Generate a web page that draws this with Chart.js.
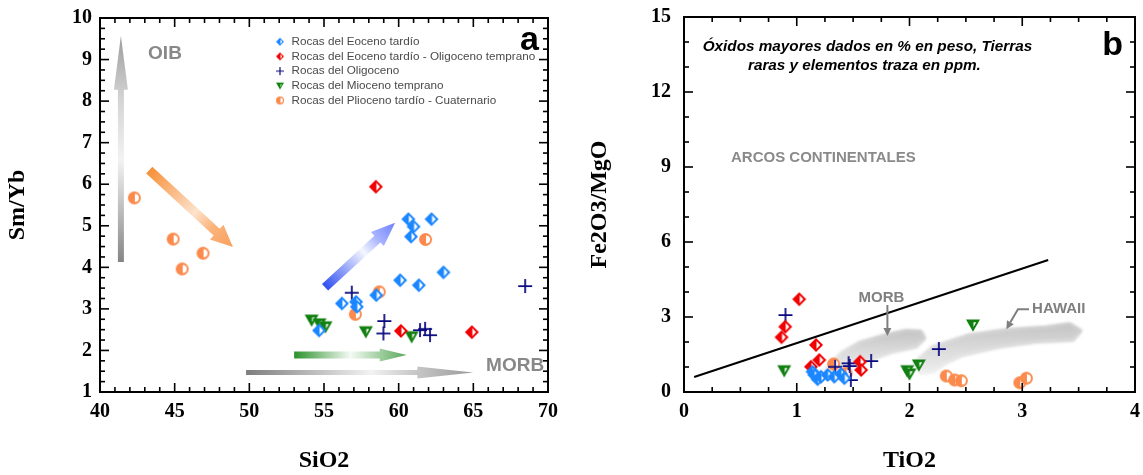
<!DOCTYPE html>
<html>
<head>
<meta charset="utf-8">
<script src="https://cdn.jsdelivr.net/npm/chart.js@4.4.0/dist/chart.umd.min.js"></script>
<style>
  html, body { margin: 0; padding: 0; background: #fff; }
  #wrap { position: relative; width: 1143px; height: 475px; overflow: hidden; }
  canvas { position: absolute; top: 0; }
</style>
</head>
<body>
<div id="wrap">
  <canvas id="chartA" width="572" height="475" style="left:0;width:572px;height:475px"></canvas>
  <canvas id="chartB" width="571" height="475" style="left:572px;width:571px;height:475px"></canvas>
</div>
<script>
// ---- data: panel a (SiO2 vs Sm/Yb) ----
const seriesNames = [
  'Rocas del Eoceno tardío',
  'Rocas del Eoceno tardío - Oligoceno temprano',
  'Rocas del Oligoceno',
  'Rocas del Mioceno temprano',
  'Rocas del Plioceno tardío - Cuaternario'
];
const eocenoA = [[60.65,5.16],[62.2,5.16],[61.0,4.98],[60.83,4.74],[63.0,3.88],[60.1,3.69],[61.35,3.57],[56.2,3.13],[57.15,3.17],[57.2,3.05],[58.5,3.33],[54.67,2.48]];
const eoOligoA = [[58.47,5.94],[60.15,2.47],[64.9,2.44]];
const oligoA = [[56.86,3.39],[59.04,2.71],[58.98,2.41],[61.43,2.49],[61.77,2.52],[62.1,2.37],[68.47,3.55]];
const miocenoA = [[54.17,2.73],[54.7,2.64],[55.1,2.57],[57.8,2.45],[60.87,2.33]];
const pliocenoA = [[42.3,5.67],[44.9,4.68],[45.5,3.96],[46.9,4.34],[61.8,4.67],[58.7,3.41],[57.1,2.87]];
const xTicksA = [40, 45, 50, 55, 60, 65, 70];
const yTicksA = [1, 2, 3, 4, 5, 6, 7, 8, 9, 10];

// ---- data: panel b (TiO2 vs Fe2O3/MgO) ----
const eocenoB = [[1.14,0.81],[1.156,0.68],[1.185,0.51],[1.215,0.61],[1.274,0.68],[1.333,0.61],[1.393,0.72],[1.422,0.55]];
const eoOligoB = [[1.022,3.71],[0.898,2.61],[0.865,2.19],[1.171,1.88],[1.2,1.28],[1.126,1.01],[1.562,1.21],[1.571,0.88]];
const oligoB = [[0.9,3.08],[1.34,1.01],[1.46,1.15],[1.47,1.04],[1.48,0.48],[1.66,1.24],[2.26,1.72]];
const miocenoB = [[0.889,0.85],[1.98,0.85],[2.0,0.72],[2.083,1.08],[2.563,2.68]];
const pliocenoB = [[1.327,1.12],[1.437,0.75],[2.326,0.64],[2.4,0.48],[2.46,0.45],[2.978,0.37],[3.037,0.55]];
const arcLine = [[0.09,0.6],[3.23,5.28]];
const morbField = [[1.24,0.85],[1.40,1.57],[1.556,1.97],[1.793,2.28],[1.97,2.45],[2.10,2.42],[2.133,2.15],[2.06,1.81],[1.85,1.61],[1.64,1.28],[1.49,1.02],[1.37,0.78]];
const hawaiiField = [[2.04,1.15],[2.207,1.8],[2.533,2.28],[2.86,2.48],[3.215,2.59],[3.42,2.72],[3.52,2.45],[3.45,2.08],[3.126,2.01],[2.8,1.81],[2.474,1.48],[2.32,1.15],[2.215,0.83],[2.10,0.74]];
const xTicksB = [0, 1, 2, 3, 4];
const yTicksB = [0, 3, 6, 9, 12, 15];

const colors = { eoceno: '#1a86ff', eoOligo: '#f00000', oligo: '#0a0a80', mioceno: '#118011', plioceno: '#fb8a4c' };

// marker images
function makeMarker(kind, color, s) {
  const c = document.createElement('canvas');
  c.width = c.height = s + 4;
  const g = c.getContext('2d');
  const m = c.width / 2, r = s / 2;
  g.fillStyle = color; g.strokeStyle = color;
  if (kind === 'diamond') {
    g.beginPath(); g.moveTo(m, m - r); g.lineTo(m + r, m); g.lineTo(m, m + r); g.lineTo(m - r, m); g.closePath(); g.fill();
    const k = r * 0.42;
    g.fillStyle = '#fff';
    g.beginPath(); g.moveTo(m + 0.5, m - r + k); g.lineTo(m + r - k, m); g.lineTo(m + 0.5, m + r - k); g.closePath(); g.fill();
  } else if (kind === 'circle') {
    g.beginPath(); g.arc(m, m, r, 0, Math.PI * 2); g.fill();
    g.fillStyle = '#fff';
    g.beginPath(); g.moveTo(m + 0.5, m - r * 0.62); g.arc(m + 0.5, m, r * 0.62, -Math.PI / 2, Math.PI / 2); g.closePath(); g.fill();
  } else if (kind === 'triangle') {
    g.beginPath(); g.moveTo(m - r, m - r * 0.8); g.lineTo(m + r, m - r * 0.8); g.lineTo(m, m + r * 0.95); g.closePath(); g.fill();
    g.fillStyle = '#fff';
    g.beginPath(); g.moveTo(m + 0.5, m - r * 0.8 + r * 0.4); g.lineTo(m + r * 0.45, m - r * 0.8 + r * 0.4); g.lineTo(m + 0.5, m + r * 0.3); g.closePath(); g.fill();
  } else {
    g.lineWidth = Math.max(1.2, s / 8);
    g.beginPath(); g.moveTo(m - r, m); g.lineTo(m + r, m); g.moveTo(m, m - r); g.lineTo(m, m + r); g.stroke();
  }
  return c;
}
const markerDefs = [['diamond', colors.eoceno], ['diamond', colors.eoOligo], ['cross', colors.oligo], ['triangle', colors.mioceno], ['circle', colors.plioceno]];
const bigMarkers = markerDefs.map(([k, c]) => makeMarker(k, c, k === 'circle' ? 13 : 14));
const smallMarkers = markerDefs.map(([k, c]) => makeMarker(k, c, 8));

function toPoints(arr) { return arr.map(p => ({ x: p[0], y: p[1] })); }
function scatterSets(lists) {
  return lists.map((arr, i) => ({
    label: seriesNames[i],
    data: toPoints(arr),
    pointStyle: bigMarkers[i],
    pointRadius: 6,
    pointHoverRadius: 6
  }));
}

// helpers
function P(chart, v) { return [chart.scales.x.getPixelForValue(v[0]), chart.scales.y.getPixelForValue(v[1])]; }

function drawArrow(ctx, a, b, shaft, headLen, headW, stops) {
  const dx = b[0] - a[0], dy = b[1] - a[1], len = Math.hypot(dx, dy);
  const ux = dx / len, uy = dy / len, nx = -uy, ny = ux;
  const bx = b[0] - ux * headLen, by = b[1] - uy * headLen;
  const g = ctx.createLinearGradient(a[0], a[1], b[0], b[1]);
  stops.forEach(s => g.addColorStop(s[0], s[1]));
  ctx.beginPath();
  ctx.moveTo(a[0] + nx * shaft / 2, a[1] + ny * shaft / 2);
  ctx.lineTo(bx + nx * shaft / 2, by + ny * shaft / 2);
  ctx.lineTo(bx + nx * headW / 2, by + ny * headW / 2);
  ctx.lineTo(b[0], b[1]);
  ctx.lineTo(bx - nx * headW / 2, by - ny * headW / 2);
  ctx.lineTo(bx - nx * shaft / 2, by - ny * shaft / 2);
  ctx.lineTo(a[0] - nx * shaft / 2, a[1] - ny * shaft / 2);
  ctx.closePath();
  ctx.fillStyle = g;
  ctx.fill();
}

function drawFrame(chart, xStep, xMajor, yStep, yMajor) {
  const { ctx, chartArea: a, scales: { x, y } } = chart;
  ctx.save();
  ctx.setTransform(1, 0, 0, 1, 0, 0);
  ctx.filter = 'none';
  ctx.globalAlpha = 1;
  ctx.globalCompositeOperation = 'source-over';
  ctx.fillStyle = '#000';
  // tick marks as thin filled rectangles, pointing inward on all four sides
  const nx = Math.round((x.max - x.min) / xStep);
  for (let i = 0; i <= nx; i++) {
    const v = x.min + i * xStep;
    const p = x.getPixelForValue(v);
    const L = Math.abs(v / xMajor - Math.round(v / xMajor)) < 1e-6 ? 9 : 5;
    ctx.fillRect(p - 0.8, a.bottom - L, 1.6, L);
    ctx.fillRect(p - 0.8, a.top, 1.6, L);
  }
  const ny = Math.round((y.max - y.min) / yStep);
  for (let i = 0; i <= ny; i++) {
    const v = y.min + i * yStep;
    const p = y.getPixelForValue(v);
    const L = Math.abs(v / yMajor - Math.round(v / yMajor)) < 1e-6 ? 9 : 5;
    ctx.fillRect(a.left, p - 0.8, L, 1.6);
    ctx.fillRect(a.right - L, p - 0.8, L, 1.6);
  }
  // frame
  ctx.fillRect(a.left - 1, a.top - 1, a.right - a.left + 2, 2);
  ctx.fillRect(a.left - 1, a.bottom - 1, a.right - a.left + 2, 2);
  ctx.fillRect(a.left - 1, a.top - 1, 2, a.bottom - a.top + 2);
  ctx.fillRect(a.right - 1, a.top - 1, 2, a.bottom - a.top + 2);
  ctx.restore();
}

function axisTitles(chart, xt, yt, yx) {
  const { ctx, chartArea: a } = chart;
  ctx.save();
  ctx.fillStyle = '#000';
  ctx.font = 'bold 24px "Liberation Serif", "Times New Roman", serif';
  ctx.textAlign = 'center';
  ctx.textBaseline = 'middle';
  ctx.fillText(xt, (a.left + a.right) / 2, 461);
  ctx.translate(yx, (a.top + a.bottom) / 2);
  ctx.rotate(-Math.PI / 2);
  ctx.fillText(yt, 0, 0);
  ctx.restore();
}

function label(ctx, text, x, y, font, color, align) {
  ctx.font = font;
  ctx.fillStyle = color;
  ctx.textAlign = align || 'center';
  ctx.textBaseline = 'middle';
  ctx.fillText(text, x, y);
}

const tickFont = { family: '"Liberation Serif", "Times New Roman", serif', size: 20, weight: 'bold' };

function scaleOpts(min, max, step, ticksList, side, pad, size) {
  return {
    type: 'linear', min: min, max: max,
    grid: { display: false, drawTicks: false },
    border: { display: false },
    afterBuildTicks: s => { s.ticks = ticksList.map(v => ({ value: v })); },
    afterFit: s => {
      if (side === 'x') s.height = size; else s.width = size;
      // keep the plot box where the layout padding puts it
      s.paddingTop = 0; s.paddingBottom = 0; s.paddingLeft = 0; s.paddingRight = 0;
    },
    ticks: { stepSize: step, color: '#000', font: tickFont, padding: pad, maxRotation: 0, autoSkip: false }
  };
}

// ---- panel a ----
const panelA = {
  id: 'panelA',
  beforeDatasetsDraw(chart) {
    const ctx = chart.ctx;
    ctx.save();
    drawArrow(ctx, P(chart, [41.4, 4.13]), P(chart, [41.4, 9.57]), 6, 54, 14,
      [[0, '#858585'], [0.45, '#f2f2f2'], [0.72, '#d4d4d4'], [1, '#9c9c9c']]);
    drawArrow(ctx, P(chart, [43.3, 6.34]), P(chart, [48.9, 4.49]), 9, 22, 20,
      [[0, '#f79038'], [0.55, '#fde2cc'], [0.75, '#fbb47a'], [1, '#f9a060']]);
    drawArrow(ctx, P(chart, [55.07, 3.52]), P(chart, [59.76, 5.07]), 9, 24, 19,
      [[0, '#3050f0'], [0.55, '#f4f6ff'], [0.75, '#a8b4ff'], [1, '#6f80ff']]);
    drawArrow(ctx, P(chart, [53.0, 1.89]), P(chart, [60.54, 1.89]), 7, 27, 13,
      [[0, '#2a922a'], [0.5, '#f4faf4'], [0.75, '#a4d0a4'], [1, '#5aa85a']]);
    drawArrow(ctx, P(chart, [49.78, 1.47]), P(chart, [65.0, 1.47]), 5, 56, 12,
      [[0, '#7e7e7e'], [0.55, '#f2f2f2'], [0.72, '#cccccc'], [1, '#9a9a9a']]);
    ctx.restore();
  },
  afterDraw(chart) {
    const { ctx, chartArea: a } = chart;
    ctx.save();
    const oib = P(chart, [44.35, 9.13]);
    label(ctx, 'OIB', oib[0], oib[1], 'bold 19px "Liberation Sans", Arial, sans-serif', '#888');
    const morb = P(chart, [67.8, 1.63]);
    label(ctx, 'MORB', morb[0], morb[1], 'bold 19px "Liberation Sans", Arial, sans-serif', '#888');
    ctx.font = 'bold 34px "Liberation Sans", Arial, sans-serif';
    ctx.fillStyle = '#000'; ctx.textAlign = 'right'; ctx.textBaseline = 'alphabetic';
    ctx.fillText('a', a.right - 9, a.top + 32);
    // legend
    seriesNames.forEach((n, i) => {
      const yy = 41.7 + i * 14.7;
      const m = smallMarkers[i];
      ctx.drawImage(m, 280 - m.width / 2, yy - m.height / 2);
      label(ctx, n, 291.5, yy, '11.7px "Liberation Sans", Arial, sans-serif', '#4a4a4a', 'left');
    });
    ctx.restore();
    axisTitles(chart, 'SiO2', 'Sm/Yb', 18);
    drawFrame(chart, 1, 5, 0.25, 1);
  }
};

new Chart(document.getElementById('chartA'), {
  type: 'scatter',
  data: { datasets: scatterSets([eocenoA, eoOligoA, oligoA, miocenoA, pliocenoA]) },
  options: {
    responsive: false, animation: false,
    layout: { padding: { left: 0, right: 24, top: 18, bottom: 0 } },
    plugins: { legend: { display: false }, tooltip: { enabled: false } },
    scales: {
      x: scaleOpts(40, 70, 5, xTicksA, 'x', 8, 83),
      y: scaleOpts(1, 10, 1, yTicksA, 'y', 8, 100)
    }
  },
  plugins: [panelA]
});

// ---- panel b ----
function drawField(chart, pts) {
  const ctx = chart.ctx;
  const pp = pts.map(p => P(chart, p));
  const ys = pp.map(p => p[1]);
  const g = ctx.createLinearGradient(0, Math.min(...ys), 0, Math.max(...ys));
  g.addColorStop(0, '#c4c4c4'); g.addColorStop(0.5, '#dadada'); g.addColorStop(1, '#eeeeee');
  ctx.save();
  ctx.filter = 'blur(1.5px)';
  ctx.beginPath();
  pp.forEach((p, i) => i ? ctx.lineTo(p[0], p[1]) : ctx.moveTo(p[0], p[1]));
  ctx.closePath();
  ctx.fillStyle = g;
  ctx.strokeStyle = g;
  ctx.lineWidth = 3;
  ctx.lineJoin = 'round';
  ctx.fill();
  ctx.stroke();
  ctx.restore();
}

function pointer(ctx, pts) {
  ctx.save();
  ctx.strokeStyle = '#7f7f7f'; ctx.fillStyle = '#7f7f7f'; ctx.lineWidth = 2;
  const n = pts.length;
  const a = pts[n - 2], b = pts[n - 1];
  const dx = b[0] - a[0], dy = b[1] - a[1], L = Math.hypot(dx, dy);
  const ux = dx / L, uy = dy / L;
  const hx = b[0] - ux * 8, hy = b[1] - uy * 8;
  ctx.beginPath();
  pts.slice(0, n - 1).forEach((p, i) => i ? ctx.lineTo(p[0], p[1]) : ctx.moveTo(p[0], p[1]));
  ctx.lineTo(hx, hy);
  ctx.stroke();
  ctx.beginPath();
  ctx.moveTo(b[0], b[1]);
  ctx.lineTo(hx - uy * 4, hy + ux * 4);
  ctx.lineTo(hx + uy * 4, hy - ux * 4);
  ctx.closePath(); ctx.fill();
  ctx.restore();
}

const panelB = {
  id: 'panelB',
  beforeDatasetsDraw(chart) {
    drawField(chart, morbField);
    drawField(chart, hawaiiField);
  },
  afterDraw(chart) {
    const { ctx, chartArea: a } = chart;
    ctx.save();
    const sans = '"Liberation Sans", Arial, sans-serif';
    const t1 = P(chart, [1.627, 13.82]);
    label(ctx, 'Óxidos mayores dados en % en peso, Tierras', t1[0], t1[1], 'italic bold 15.3px ' + sans, '#000');
    const t2 = P(chart, [1.600, 13.06]);
    label(ctx, 'raras y elementos traza en ppm.', t2[0], t2[1], 'italic bold 15.3px ' + sans, '#000');
    const arc = P(chart, [1.236, 9.36]);
    label(ctx, 'ARCOS CONTINENTALES', arc[0], arc[1], 'bold 15px ' + sans, '#8a8a8a');
    const mo = P(chart, [1.751, 3.78]);
    label(ctx, 'MORB', mo[0], mo[1], 'bold 15px ' + sans, '#808080');
    const hw = P(chart, [3.324, 3.32]);
    label(ctx, 'HAWAII', hw[0], hw[1], 'bold 15px ' + sans, '#808080');
    pointer(ctx, [P(chart, [1.804, 3.48]), P(chart, [1.804, 2.24])]);
    pointer(ctx, [P(chart, [3.06, 3.31]), P(chart, [2.962, 3.31]), P(chart, [2.859, 2.51])]);
    ctx.font = 'bold 34px ' + sans;
    ctx.fillStyle = '#000'; ctx.textAlign = 'right'; ctx.textBaseline = 'alphabetic';
    ctx.fillText('b', a.right - 12, a.top + 38);
    ctx.restore();
    axisTitles(chart, 'TiO2', 'Fe2O3/MgO', 28);
    drawFrame(chart, 0.25, 1, 1, 3);
  }
};

const setsB = scatterSets([eocenoB, eoOligoB, oligoB, miocenoB, pliocenoB]);
setsB.push({
  label: 'arcos',
  data: toPoints(arcLine),
  showLine: true,
  borderColor: '#000',
  borderWidth: 2,
  pointRadius: 0,
  pointHoverRadius: 0,
  order: 10
});

new Chart(document.getElementById('chartB'), {
  type: 'scatter',
  data: { datasets: setsB },
  options: {
    responsive: false, animation: false,
    layout: { padding: { left: 0, right: 8, top: 17, bottom: 0 } },
    plugins: { legend: { display: false }, tooltip: { enabled: false } },
    scales: {
      x: scaleOpts(0, 4, 1, xTicksB, 'x', 8, 83),
      y: scaleOpts(0, 15, 3, yTicksB, 'y', 13, 112)
    }
  },
  plugins: [panelB]
});
</script>
</body>
</html>
